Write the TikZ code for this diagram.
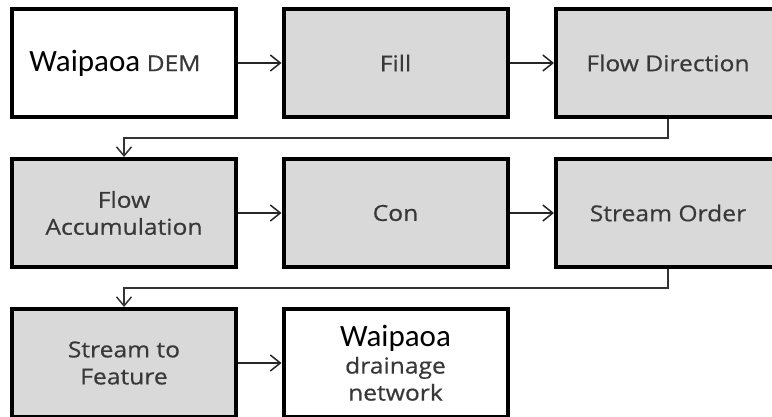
\documentclass[tikz,border=0pt]{standalone}
\usepackage{fontspec}
\setmainfont{Carlito}
\newfontfamily\stepfont[FakeStretch=1.12,FakeBold=0.5]{Open Sans}
\usetikzlibrary{arrows.meta}

\definecolor{boxgray}{HTML}{D9D9D9}
\definecolor{labelgray}{HTML}{383838}

\begin{document}
\begin{tikzpicture}[
  x=1pt,y=-1pt,
  stepbox/.style={draw,line width=4pt,minimum width=224pt,minimum height=108pt,
    inner sep=0pt,align=center,fill=boxgray,text=labelgray,
    font=\stepfont\fontsize{22}{27}\selectfont},
  endbox/.style={stepbox,fill=white},
  flow/.style={-{Straight Barb[length=10pt,width=16pt,line width=1.5pt]},line width=1.5pt,black!85},
  wrap/.style={-{Straight Barb[length=9pt,width=15pt,line width=1.5pt]},line width=1.3pt,black!80},
]
\useasboundingbox (0,0) rectangle (772,417);

% ---------- first row ----------
\node[endbox] (dem) at (124,63)
  {\hspace*{-18pt}{\rmfamily\color{black}\fontsize{31}{32}\selectfont Waipaoa}\ {\fontsize{22}{24}\selectfont DEM}};
\node[stepbox] (fill) at (395.5,63) {Fill};
\node[stepbox] (fdir) at (668,63) {Flow Direction};
\draw[flow] (dem) -- (fill);
\draw[flow] (fill) -- (fdir);

% ---------- second row ----------
\node[stepbox] (facc) at (124,213) {Flow\\Accumulation};
\node[stepbox] (con) at (395.5,213) {Con};
\node[stepbox] (sord) at (668,213) {Stream Order};
\draw[wrap] (fdir.south) -- ++(0,19) -| (facc.north);
\draw[flow] (facc) -- (con);
\draw[flow] (con) -- (sord);

% ---------- third row ----------
\node[stepbox] (sfeat) at (124,363) {Stream to\\Feature};
\node[endbox] (net) at (395.5,363)
  {{\rmfamily\color{black}\fontsize{31}{27}\selectfont Waipaoa}\\drainage\\network};
\draw[wrap] (sord.south) -- ++(0,19) -| (sfeat.north);
\draw[flow] (sfeat) -- (net);

\end{tikzpicture}
\end{document}
